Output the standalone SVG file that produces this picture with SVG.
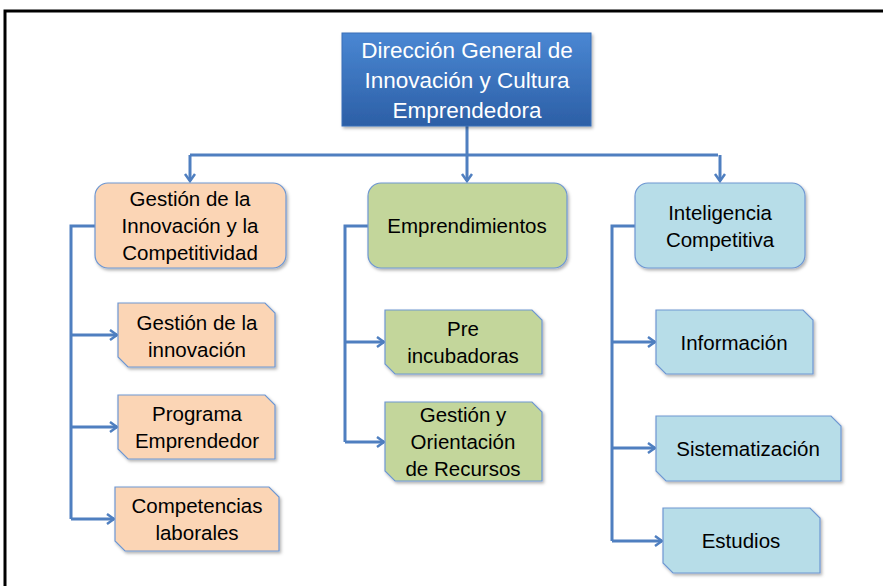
<svg xmlns="http://www.w3.org/2000/svg" width="883" height="586" viewBox="0 0 883 586">
<defs>
<linearGradient id="gTop" x1="0" y1="0" x2="0" y2="1">
<stop offset="0" stop-color="#4a87d3"/>
<stop offset="1" stop-color="#2c5fa6"/>
</linearGradient>
<filter id="sh" x="-10%" y="-10%" width="125%" height="130%">
<feDropShadow dx="1.5" dy="2" stdDeviation="1.5" flood-color="#000" flood-opacity="0.3"/>
</filter>
<marker id="arr" markerUnits="userSpaceOnUse" markerWidth="14" markerHeight="14" refX="10" refY="6" orient="auto">
<path d="M3,1 L10,6 L3,11" fill="none" stroke="#4f7fc0" stroke-width="2.5"/>
</marker>
<style>
.conn{fill:none;stroke:#4f7fc0;stroke-width:3}
.box{stroke:#6e97d2;stroke-width:1.2;filter:url(#sh)}
.or{fill:#fbd5b5}
.gr{fill:#c3d69b}
.bl{fill:#b7dde8}
text{font-family:"Liberation Sans",Arial,sans-serif;text-anchor:middle;fill:#000}
.t2{font-size:20.5px}
.t3{font-size:20.5px}
.t1{font-size:22.5px;fill:#fff}
</style>
</defs>
<rect width="883" height="586" fill="#fff"/>
<path d="M5,586 L5,11 L883,11" fill="none" stroke="#000" stroke-width="3"/>

<g id="connectors">
<path class="conn" d="M467,126 L467,155 M190,155 L718,155"/>
<path class="conn" d="M190,155 L190,181" marker-end="url(#arr)"/>
<path class="conn" d="M467,155 L467,181" marker-end="url(#arr)"/>
<path class="conn" d="M720,155 L720,181" marker-end="url(#arr)"/>
<path class="conn" d="M95,226 L71,226 L71,519"/>
<path class="conn" d="M71,335 L117,335" marker-end="url(#arr)"/>
<path class="conn" d="M71,427 L117,427" marker-end="url(#arr)"/>
<path class="conn" d="M71,519 L114,519" marker-end="url(#arr)"/>
<path class="conn" d="M368,226 L345,226 L345,442"/>
<path class="conn" d="M345,342 L384,342" marker-end="url(#arr)"/>
<path class="conn" d="M345,442 L384,442" marker-end="url(#arr)"/>
<path class="conn" d="M635,226 L612,226 L612,541"/>
<path class="conn" d="M612,342 L655,342" marker-end="url(#arr)"/>
<path class="conn" d="M612,448 L655,448" marker-end="url(#arr)"/>
<path class="conn" d="M612,541 L662,541" marker-end="url(#arr)"/>
</g>

<g id="top">
<rect x="342" y="33" width="249" height="93" fill="url(#gTop)" stroke="#3a6fb8" stroke-width="1" filter="url(#sh)"/>
<text class="t1" x="467" y="58">Dirección General de</text>
<text class="t1" x="467" y="88">Innovación y Cultura</text>
<text class="t1" x="467" y="118">Emprendedora</text>
</g>

<g id="gestion-innovacion-competitividad">
<rect class="box or" x="95" y="183" width="191" height="85" rx="13"/>
<text class="t2" x="190" y="206">Gestión de la</text>
<text class="t2" x="190" y="233">Innovación y la</text>
<text class="t2" x="190" y="260">Competitividad</text>
</g>
<g id="emprendimientos">
<rect class="box gr" x="368" y="183" width="199" height="85" rx="13"/>
<text class="t2" x="467" y="233">Emprendimientos</text>
</g>
<g id="inteligencia">
<rect class="box bl" x="635" y="183" width="170" height="85" rx="13"/>
<text class="t2" x="720" y="220">Inteligencia</text>
<text class="t2" x="720" y="247">Competitiva</text>
</g>

<g id="gestion-de-la-innovacion">
<path class="box or" d="M118,303 L265,303 L275,313 L275,367 L128,367 L118,357 Z"/>
<text class="t3" x="197" y="330">Gestión de la</text>
<text class="t3" x="197" y="357">innovación</text>
</g>
<g id="programa-emprendedor">
<path class="box or" d="M118,395 L265,395 L275,405 L275,459 L128,459 L118,449 Z"/>
<text class="t3" x="197" y="421">Programa</text>
<text class="t3" x="197" y="448">Emprendedor</text>
</g>
<g id="competencias-laborales">
<path class="box or" d="M115,487 L269,487 L279,497 L279,551 L125,551 L115,541 Z"/>
<text class="t3" x="197" y="513">Competencias</text>
<text class="t3" x="197" y="540">laborales</text>
</g>

<g id="pre-incubadoras">
<path class="box gr" d="M385,310 L532,310 L542,320 L542,374 L395,374 L385,364 Z"/>
<text class="t3" x="463" y="336">Pre</text>
<text class="t3" x="463" y="363">incubadoras</text>
</g>
<g id="gestion-orientacion-recursos">
<path class="box gr" d="M385,402 L532,402 L542,412 L542,481 L395,481 L385,471 Z"/>
<text class="t3" x="463" y="422">Gestión y</text>
<text class="t3" x="463" y="449">Orientación</text>
<text class="t3" x="463" y="476">de Recursos</text>
</g>

<g id="informacion">
<path class="box bl" d="M656,310 L803,310 L813,320 L813,374 L666,374 L656,364 Z"/>
<text class="t3" x="734" y="350">Información</text>
</g>
<g id="sistematizacion">
<path class="box bl" d="M656,416 L831,416 L841,426 L841,481 L666,481 L656,471 Z"/>
<text class="t3" x="748" y="456">Sistematización</text>
</g>
<g id="estudios">
<path class="box bl" d="M663,508 L810,508 L820,518 L820,573 L673,573 L663,563 Z"/>
<text class="t3" x="741" y="548">Estudios</text>
</g>
</svg>
